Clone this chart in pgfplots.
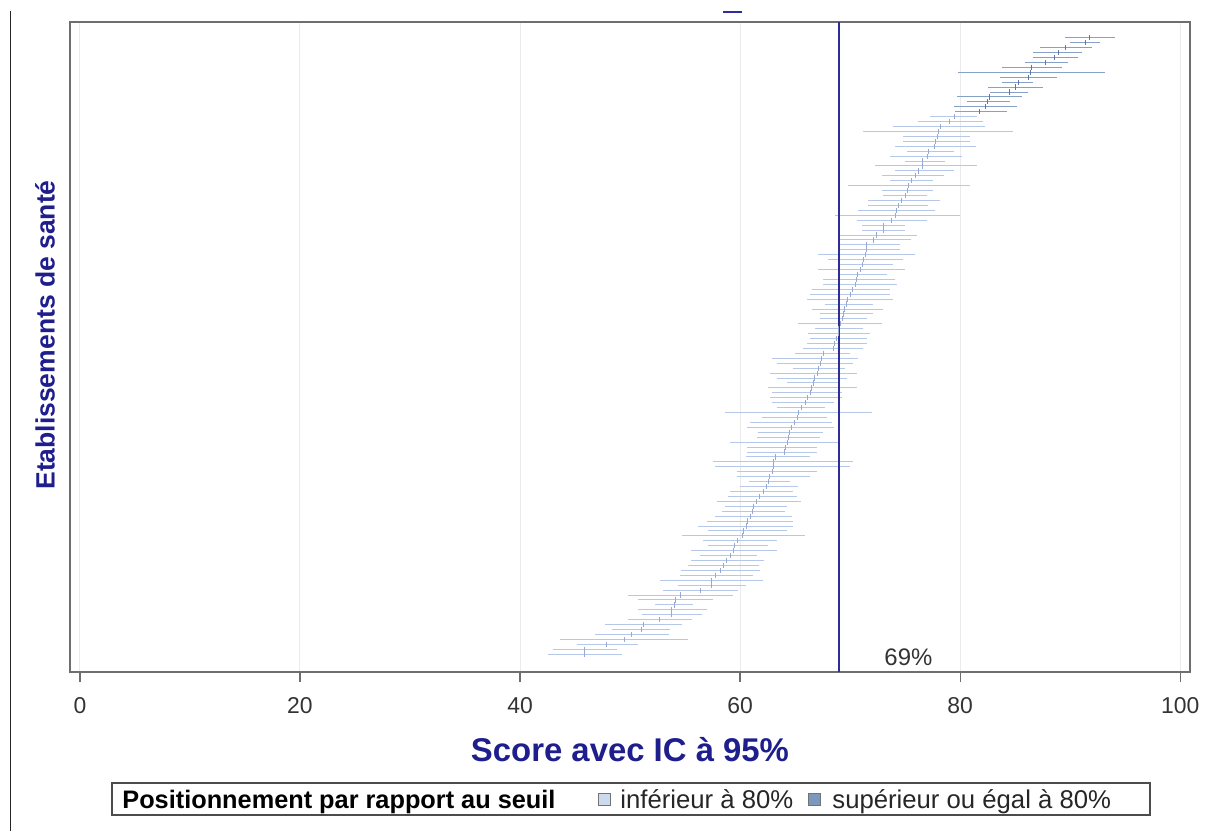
\documentclass[border=0pt]{standalone}
\usepackage{pgfplots}
\pgfplotsset{compat=1.18}
\usepackage{pgfplotstable}
\usepackage{fontspec}
\setmainfont{Liberation Sans}

\definecolor{cilow}{RGB}{182,200,234}
\definecolor{cihigh}{RGB}{135,160,200}
\definecolor{ptlow}{RGB}{150,168,212}
\definecolor{pthigh}{RGB}{95,118,170}
\definecolor{refblue}{RGB}{45,45,150}
\definecolor{labblue}{RGB}{30,30,140}
\definecolor{framegray}{RGB}{110,110,110}
\definecolor{gridgray}{RGB}{234,234,234}
\definecolor{legl}{RGB}{205,218,238}
\definecolor{legh}{RGB}{125,152,190}

\pgfplotstableread{
y c lo hi
126 91.8 89.5 94.1
125 91.4 90.0 92.7
124 89.6 87.3 92.0
123 88.9 86.6 91.1
122 88.6 86.6 90.7
121 87.8 85.9 89.8
120 86.5 83.8 89.3
119 86.4 79.8 93.2
118 86.2 83.6 88.8
117 85.3 83.8 86.6
116 85.0 82.5 87.5
115 84.5 82.7 86.2
114 82.7 79.7 85.6
113 82.5 80.6 84.5
112 82.3 79.4 85.2
111 81.8 79.5 84.3
}\high

\pgfplotstableread{
y c lo hi
110 79.5 77.3 81.5
109 79.0 76.2 82.1
108 78.2 73.9 82.3
107 78.0 71.2 84.8
106 77.9 74.8 80.9
105 77.8 74.8 80.9
104 77.7 74.1 81.4
103 77.1 75.2 79.4
102 77.0 73.6 80.2
101 76.6 75.0 78.6
100 76.6 72.3 81.5
99 76.2 74.1 79.4
98 75.9 72.9 78.5
97 75.6 73.6 77.5
96 75.3 69.8 80.9
95 75.2 72.9 77.5
94 75.0 73.0 77.0
93 74.7 71.6 78.2
92 74.4 71.6 77.1
91 74.2 70.7 77.7
90 74.1 68.6 80.0
89 73.8 70.6 77.0
88 73.0 71.1 75.0
87 73.0 71.1 75.0
86 72.4 69.1 76.1
85 72.1 69.1 75.5
84 71.5 69.1 74.5
83 71.5 69.1 74.5
82 71.4 67.1 75.9
81 71.2 68.0 74.8
80 71.1 68.9 73.9
79 70.9 67.1 75.0
78 70.7 69.1 73.4
77 70.6 67.5 74.1
76 70.5 67.5 74.3
75 70.2 66.5 73.6
74 70.0 66.4 73.6
73 69.8 66.1 73.9
72 69.7 67.7 72.1
71 69.5 66.5 73.0
70 69.4 67.3 72.1
69 69.3 67.3 71.5
68 69.1 65.3 72.9
67 68.9 66.8 71.2
66 68.9 66.2 71.8
65 68.8 66.4 71.5
64 68.6 66.1 71.5
63 68.5 65.7 71.2
62 67.6 65.0 70.0
61 67.4 62.9 70.7
60 67.3 63.4 70.3
59 67.1 64.8 69.5
58 67.0 62.7 70.6
57 66.8 63.4 69.7
56 66.7 64.3 69.1
55 66.5 62.5 70.6
54 66.4 62.9 69.3
53 66.1 62.7 69.3
52 65.9 62.9 68.5
51 65.6 63.4 67.7
50 65.3 58.6 72.0
49 65.2 62.0 67.9
48 64.9 60.9 68.4
47 64.7 60.6 68.5
46 64.5 61.6 67.5
45 64.4 61.5 67.3
44 64.3 59.1 68.9
43 64.1 60.6 67.0
42 64.0 60.6 67.0
41 63.2 60.5 66.4
40 63.0 57.5 70.3
39 63.0 57.7 70.0
38 62.9 59.7 67.0
37 62.7 59.7 66.4
36 62.6 60.8 64.5
35 62.4 60.0 65.3
34 62.1 59.1 64.8
33 61.8 58.9 65.2
32 61.5 57.9 65.5
31 61.2 58.6 64.3
30 61.1 58.4 64.1
29 60.9 57.7 64.7
28 60.7 57.0 64.8
27 60.6 56.2 64.8
26 60.3 57.1 64.3
25 60.2 54.7 65.9
24 59.8 56.6 63.4
23 59.5 57.1 62.5
22 59.4 55.5 63.4
21 59.1 56.4 61.5
20 58.8 55.5 62.2
19 58.5 55.3 61.7
18 58.2 54.6 61.8
17 57.8 54.5 61.2
16 57.4 52.7 62.1
15 57.4 54.4 60.5
14 56.4 53.0 59.8
13 54.6 49.8 59.4
12 54.1 50.7 57.5
11 54.0 52.3 55.7
10 53.8 50.7 57.0
9 53.8 51.1 56.5
8 52.7 49.8 55.6
7 51.2 47.7 54.7
6 51.0 48.4 53.6
5 50.1 46.8 53.5
4 49.5 43.6 55.3
3 47.9 45.2 50.7
2 45.9 43.0 48.8
1 45.9 42.5 49.3
}\low

\begin{document}
\begin{tikzpicture}[x=0.5bp,y=0.5bp]
\useasboundingbox (0,0) rectangle (1205,831);
\begin{axis}[
  at={(35bp,79.5bp)}, anchor=south west,
  scale only axis, width=560bp, height=325bp,
  xmin=-0.9, xmax=100.9, ymin=-2.6, ymax=129.2,
  xtick={0,20,40,60,80,100}, ytick=\empty,
  xmajorgrids, grid style={gridgray, line width=0.5bp},
  axis line style={framegray, line width=1bp},
  tick align=outside, xtick pos=bottom, major tick length=5bp,
  tick style={framegray, line width=0.6bp},
  xticklabel style={font=\fontsize{11.5}{13}\selectfont, text=black!80, yshift=-4bp},
  /pgf/number format/assume math mode=true,
  clip=false,
]
\addplot[only marks, mark=|, mark size=1.3bp, mark options={ptlow, line width=0.45bp},
  error bars/.cd, x dir=both, x explicit, error mark=none,
  error bar style={cilow, line width=0.5bp}]
  table[x=c, y=y, x error minus expr=\thisrow{c}-\thisrow{lo}, x error plus expr=\thisrow{hi}-\thisrow{c}] {\low};
\addplot[only marks, mark=|, mark size=1.3bp, mark options={pthigh, line width=0.45bp},
  error bars/.cd, x dir=both, x explicit, error mark=none,
  error bar style={cihigh, line width=0.5bp}]
  table[x=c, y=y, x error minus expr=\thisrow{c}-\thisrow{lo}, x error plus expr=\thisrow{hi}-\thisrow{c}] {\high};
\addplot[refblue, line width=1bp] coordinates {(69,-2.6) (69,129.2)};
\node[font=\fontsize{12}{14}\selectfont, text=black!80] at (axis cs:75.3,0.4) {69\%};
\end{axis}
% axis titles
\node[font=\bfseries\fontsize{16.5}{18}\selectfont, text=labblue] at (630,81) {Score avec IC à 95\%};
\node[font=\bfseries\fontsize{13.3}{15}\selectfont, text=labblue, rotate=90] at (45,496) {Etablissements de santé};
% legend
\draw[black!70, line width=0.6bp] (112,16) rectangle (1150,48);
\node[anchor=base west, inner sep=0, font=\bfseries\fontsize{12.7}{14}\selectfont] at (122,23) {Positionnement par rapport au seuil};
\draw[black!55, line width=0.5bp, fill=legl] (598,26) rectangle (610,38);
\node[anchor=base west, inner sep=0, font=\fontsize{12.9}{14}\selectfont, text=black!85] at (620,23) {inférieur à 80\%};
\draw[black!55, line width=0.5bp, fill=legh] (808,26) rectangle (820,38);
\node[anchor=base west, inner sep=0, font=\fontsize{12.9}{14}\selectfont, text=black!85] at (832,23) {supérieur ou égal à 80\%};
% page decorations
\draw[black!85, line width=0.8bp] (10.5,0) -- (10.5,820);
\draw[refblue, line width=1bp] (723,819) -- (742,819);
\end{tikzpicture}
\end{document}
